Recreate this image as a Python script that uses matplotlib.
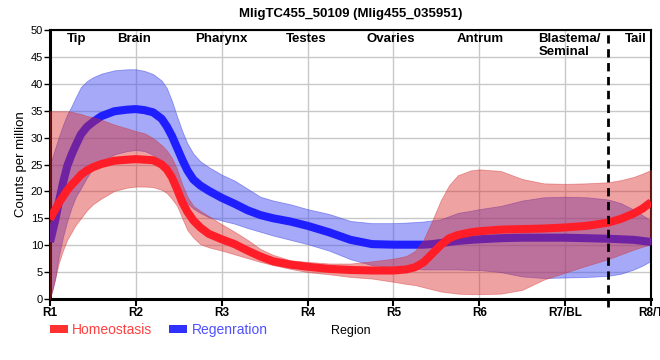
import matplotlib
matplotlib.use('Agg')
import matplotlib.pyplot as plt
from matplotlib.patches import Patch

plt.rcParams['font.family'] = ['Liberation Sans', 'DejaVu Sans']

# positions along the body (1 = R1 ... 8 = R8/T), 10 per row
pos = [1.0, 1.03, 1.06, 1.1, 1.15, 1.2, 1.25, 1.3, 1.36, 1.43,
       1.5, 1.6, 1.75, 1.9, 2.0, 2.1, 2.2, 2.3, 2.36, 2.42,
       2.48, 2.54, 2.6, 2.67, 2.75, 2.85, 3.0, 3.15, 3.3, 3.45,
       3.6, 3.8, 4.0, 4.25, 4.5, 4.75, 5.0, 5.15, 5.25, 5.35,
       5.45, 5.55, 5.65, 5.75, 5.9, 6.0, 6.25, 6.5, 6.75, 7.0,
       7.25, 7.5, 7.65, 7.8, 7.9, 8.0]

# Homeostasis: mean and band
homeo_mean = [14.8, 15.8, 16.6, 17.8, 19.0, 20.2, 21.2, 22.0, 23.1, 23.9,
              24.5, 25.1, 25.7, 25.9, 26.0, 25.9, 25.8, 25.0, 24.1, 22.6,
              20.4, 18.0, 16.2, 14.6, 13.3, 12.1, 11.1, 10.2, 9.0, 7.9,
              7.0, 6.4, 6.0, 5.6, 5.4, 5.3, 5.3, 5.5, 5.9, 6.8,
              8.4, 10.0, 11.3, 11.9, 12.4, 12.6, 12.9, 13.0, 13.1, 13.3,
              13.6, 14.2, 14.9, 15.9, 16.8, 18.0]
homeo_hi = [34.9, 34.9, 34.9, 34.9, 34.9, 34.9, 34.8, 34.6, 34.4, 34.0,
            33.8, 33.3, 32.4, 31.7, 31.2, 30.8, 29.9, 28.6, 27.6, 26.2,
            24.1, 21.3, 19.0, 17.3, 16.4, 15.4, 13.9, 12.5, 11.0, 9.3,
            8.2, 7.2, 6.9, 6.6, 6.6, 7.0, 7.5, 8.0, 8.9, 11.0,
            14.5, 18.3, 21.2, 23.0, 23.9, 24.1, 23.8, 22.3, 21.5, 21.4,
            21.5, 21.7, 22.1, 22.7, 23.3, 24.0]
homeo_lo = [0.0, 1.9, 3.8, 6.6, 9.0, 11.0, 12.4, 13.8, 15.0, 16.5,
            17.6, 18.7, 20.1, 20.7, 20.9, 20.9, 20.8, 20.3, 19.7, 18.6,
            17.3, 15.0, 12.8, 11.4, 10.2, 9.6, 9.0, 8.3, 7.6, 6.9,
            6.3, 5.6, 5.0, 4.6, 4.1, 3.8, 3.2, 2.8, 2.6, 2.2,
            1.8, 1.4, 1.2, 1.0, 0.9, 0.9, 1.0, 1.7, 3.6, 4.9,
            6.2, 7.4, 8.3, 9.2, 9.7, 10.2]

# Regeneration: mean and band
regen_mean = [10.6, 12.6, 14.6, 17.8, 21.5, 24.7, 26.8, 28.6, 30.6, 32.0,
              32.9, 34.0, 34.9, 35.2, 35.3, 35.1, 34.7, 33.5, 32.1, 30.3,
              28.1, 25.9, 23.9, 22.2, 21.1, 20.1, 18.8, 17.7, 16.5, 15.6,
              15.0, 14.4, 13.6, 12.4, 11.0, 10.2, 10.1, 10.1, 10.1, 10.1,
              10.2, 10.4, 10.6, 10.8, 11.0, 11.1, 11.3, 11.4, 11.4, 11.4,
              11.3, 11.2, 11.1, 11.0, 10.8, 10.6]
regen_hi = [25.0, 26.5, 28.0, 30.0, 32.3, 34.3, 35.8, 37.5, 39.4, 40.5,
            41.2, 41.9, 42.5, 42.7, 42.7, 42.4, 41.8, 40.6, 39.2, 36.8,
            33.9, 31.2, 28.9, 27.0, 25.6, 24.5, 23.1, 22.0, 20.5, 19.0,
            18.3, 17.6, 16.7, 15.8, 14.5, 14.1, 14.1, 14.2, 14.3, 14.4,
            14.6, 14.8, 15.4, 16.0, 16.4, 16.7, 17.3, 18.3, 18.9, 19.0,
            18.9, 18.5, 17.8, 16.6, 15.6, 14.5]
regen_lo = [0.3, 1.8, 3.8, 7.8, 11.5, 14.5, 17.0, 19.0, 20.6, 22.6,
            24.3, 25.6, 26.9, 27.5, 27.7, 27.5, 26.8, 25.8, 25.0, 23.6,
            21.6, 19.4, 17.8, 16.8, 16.0, 15.2, 14.6, 14.0, 13.2, 12.5,
            11.8, 11.0, 10.2, 9.0, 7.4, 6.3, 5.9, 5.7, 5.6, 5.5,
            5.5, 5.5, 5.5, 5.5, 5.4, 5.4, 5.0, 4.2, 3.9, 4.0,
            4.1, 4.3, 4.7, 5.5, 6.2, 7.1]

tick_pos = [1, 2, 3, 4, 5, 6, 7, 8]
tick_labels = ['R1', 'R2', 'R3', 'R4', 'R5', 'R6', 'R7/BL', 'R8/T']

regions = ['Tip', 'Brain', 'Pharynx', 'Testes', 'Ovaries', 'Antrum', 'Tail']
region_x = [1.31, 1.98, 3.0, 3.98, 4.97, 6.01, 7.82]

fig = plt.figure(figsize=(6.6, 3.6), dpi=100)
ax = fig.add_axes([0.0758, 0.1694, 0.9106, 0.7473])

# bands and lines (blue first so red sits on top)
ax.fill_between(pos, regen_lo, regen_hi, facecolor='#4c55f0', alpha=0.5,
                edgecolor='#3a44e0', linewidth=0.6, zorder=2)
ax.plot(pos, regen_mean, color='#1e1eff', linewidth=5.8, solid_capstyle='butt',
        solid_joinstyle='round', zorder=3)
ax.fill_between(pos, homeo_lo, homeo_hi, facecolor='#dc2828', alpha=0.43,
                edgecolor='#d03030', linewidth=0.6, zorder=4)
ax.plot(pos, homeo_mean, color='#ff1e28', linewidth=5.8, solid_capstyle='butt',
        solid_joinstyle='round', zorder=5)

# boundary between R7 and tail
ax.axvline(7.5, ymin=-0.03, ymax=1, color='black', linewidth=2, dashes=(3, 2),
           clip_on=False, zorder=6)

for name, x in zip(regions, region_x):
    ax.text(x, 49.4, name, ha='center', va='top', fontsize=9.5, fontweight='bold', zorder=7)
ax.text(6.69, 49.4, 'Blastema/\nSeminal', ha='left', va='top', fontsize=9.5,
        fontweight='bold', linespacing=1.05, zorder=7)

ax.set_xlim(1, 8)
ax.set_ylim(0, 50)
ax.set_xticks(tick_pos)
ax.set_xticklabels(tick_labels, fontsize=8.5, fontweight='bold')
ax.set_yticks(range(0, 51, 5))
ax.tick_params(axis='y', labelsize=8, length=4, width=1, pad=1)
ax.tick_params(axis='x', length=5, width=1.5, pad=1)
ax.grid(True, color='#c8c8c8', linewidth=1)
ax.set_axisbelow(True)
for s in ax.spines.values():
    s.set_linewidth(1.5)
ax.spines['left'].set_linewidth(2.2)
ax.spines['bottom'].set_linewidth(2.2)

ax.set_ylabel('Counts per million', fontsize=9.5, labelpad=3)
ax.set_xlabel('Region', fontsize=9, labelpad=4)

ax.set_title('MligTC455_50109 (Mlig455_035951)', fontsize=9.5, fontweight='bold', pad=9)

handles = [Patch(facecolor='#ff3030'), Patch(facecolor='#3030ff')]
ax.legend(handles, ['Homeostasis', 'Regenration'], loc='center left',
          bbox_to_anchor=(0.0, -0.115), ncol=2, frameon=False, fontsize=10,
          handlelength=1.3, handleheight=0.6, handletextpad=0.3, columnspacing=1.2,
          borderaxespad=0, borderpad=0, labelcolor=['#ff4040', '#5050ff'])

fig.savefig('out.png', dpi=100)
